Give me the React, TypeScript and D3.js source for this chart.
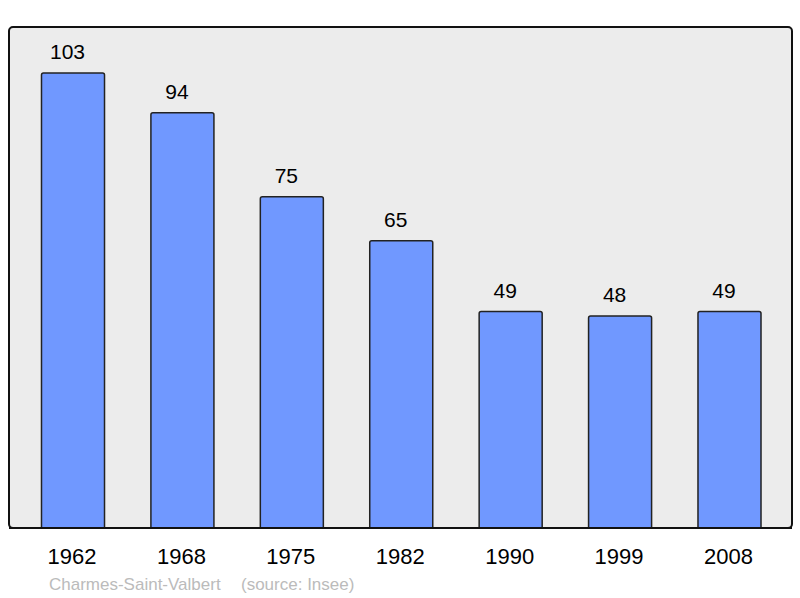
import React from "react";
import * as d3 from "d3";

const years = ["1962", "1968", "1975", "1982", "1990", "1999", "2008"];
const population = [103, 94, 75, 65, 49, 48, 49];
const townName = "Charmes-Saint-Valbert";
const sourceText = "(source: Insee)";

const W = 800;
const H = 598;
const frame = { left: 9, top: 27, right: 792, bottom: 528 };

export default function App() {
  const x = d3
    .scaleBand<string>()
    .domain(years)
    .range([18.3, 784.2])
    .paddingInner(0.424)
    .paddingOuter(0.212);
  const y = d3.scaleLinear().domain([0, 103]).range([frame.bottom, 73]);
  const font = "'Liberation Sans', Arial, sans-serif";

  return (
    <svg
      width={W}
      height={H}
      style={{ position: "absolute", left: 0, top: 0 }}
      fontFamily={font}
    >
      <rect x={0} y={0} width={W} height={H} fill="#ffffff" />
      <rect
        x={frame.left}
        y={frame.top}
        width={frame.right - frame.left}
        height={frame.bottom - frame.top}
        rx={4}
        ry={4}
        fill="#ececec"
        stroke="#111"
        strokeWidth={2}
      />
      {years.map((yr, i) => {
        const v = population[i];
        const bx = x(yr)!;
        const bw = x.bandwidth();
        const top = y(v);
        return (
          <g key={yr}>
            <path
              d={`M${bx},${frame.bottom} L${bx},${top + 2} Q${bx},${top} ${bx + 2},${top} L${bx + bw - 2},${top} Q${bx + bw},${top} ${bx + bw},${top + 2} L${bx + bw},${frame.bottom}`}
              fill="#7098ff"
              stroke="#222"
              strokeWidth={1.5}
            />
            <text
              x={bx + bw / 2 - 5.5}
              y={top - 14}
              textAnchor="middle"
              fontSize={21}
              fill="#000"
            >
              {v}
            </text>
            <text
              x={bx + bw / 2 - 1}
              y={564}
              textAnchor="middle"
              fontSize={22}
              fill="#000"
            >
              {yr}
            </text>
          </g>
        );
      })}
      <line
        x1={frame.left}
        x2={frame.right}
        y1={frame.bottom}
        y2={frame.bottom}
        stroke="#111"
        strokeWidth={2}
      />
      <text x={49} y={590} fontSize={17} fill="#bbbbbb">
        {townName}
      </text>
      <text x={241} y={590} fontSize={17} fill="#bbbbbb">
        {sourceText}
      </text>
    </svg>
  );
}
